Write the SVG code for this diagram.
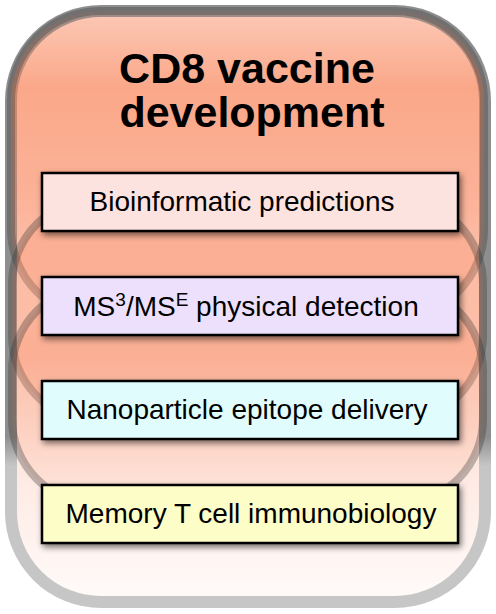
<svg xmlns="http://www.w3.org/2000/svg" width="496" height="614" viewBox="0 0 496 614">
<defs>
<linearGradient id="g0" x1="0" y1="0" x2="0" y2="1">
<stop offset="0" stop-color="#fcd2c2"/>
<stop offset="0.3" stop-color="#fdcfbf"/>
<stop offset="0.6" stop-color="#fdd6c8"/>
<stop offset="0.78" stop-color="#fee9e2"/>
<stop offset="1" stop-color="#fffbfa"/>
</linearGradient>
<linearGradient id="s0" x1="0" y1="0" x2="0" y2="1">
<stop offset="0" stop-color="#8e8e8e"/>
<stop offset="0.72" stop-color="#8e8e8e"/>
<stop offset="0.77" stop-color="#c6c6c6"/>
<stop offset="1" stop-color="#c6c6c6"/>
</linearGradient>
<linearGradient id="gA" x1="0" y1="0" x2="0" y2="1">
<stop offset="0" stop-color="#f9865c" stop-opacity="0.12"/>
<stop offset="0.25" stop-color="#f9865c" stop-opacity="0.55"/>
<stop offset="0.6" stop-color="#f9865c" stop-opacity="0.4"/>
<stop offset="1" stop-color="#f9865c" stop-opacity="0.1"/>
</linearGradient>
<linearGradient id="gB" x1="0" y1="0" x2="0" y2="1">
<stop offset="0" stop-color="#f9865c" stop-opacity="0.12"/>
<stop offset="0.3" stop-color="#f9865c" stop-opacity="0.3"/>
<stop offset="0.7" stop-color="#f9865c" stop-opacity="0.28"/>
<stop offset="1" stop-color="#f9865c" stop-opacity="0.12"/>
</linearGradient>
<linearGradient id="gC" x1="0" y1="0" x2="0" y2="1">
<stop offset="0" stop-color="#f9865c" stop-opacity="0.12"/>
<stop offset="0.3" stop-color="#f9865c" stop-opacity="0.28"/>
<stop offset="0.6" stop-color="#f9865c" stop-opacity="0.2"/>
<stop offset="1" stop-color="#f9865c" stop-opacity="0.06"/>
</linearGradient>
<filter id="sh" x="-10%" y="-40%" width="120%" height="190%">
<feDropShadow dx="2" dy="3" stdDeviation="3" flood-color="#000" flood-opacity="0.55"/>
</filter>
</defs>
<style>
.outer{fill:url(#g0);stroke:url(#s0);stroke-width:12}
.band{stroke:#333;stroke-opacity:0.33;stroke-width:8}
.box{stroke:#000;stroke-width:2.5;filter:url(#sh)}
.lbl{font-family:"Liberation Sans",Arial,sans-serif;font-size:28px;fill:#000;text-anchor:middle}
.title{font-family:"Liberation Sans",Arial,sans-serif;font-size:43px;font-weight:bold;fill:#000;text-anchor:middle}
</style>
<g id="background">
<rect class="outer" x="11" y="11" width="474" height="591" rx="90"/>
<rect class="band" x="11" y="11" width="473" height="307" rx="89" fill="url(#gA)"/>
<rect class="band" x="12" y="199" width="471" height="222" rx="85" fill="url(#gB)"/>
<rect class="band" x="12" y="286" width="471" height="218" rx="85" fill="url(#gC)"/>
</g>
<g id="title">
<text class="title" x="247" y="83">CD8 vaccine</text>
<text class="title" x="252" y="127">development</text>
</g>
<g id="connectors"></g>
<g id="node-bioinformatic">
<rect class="box" x="42" y="173" width="416" height="58" fill="#fde3e0"/>
<text class="lbl" x="242" y="211">Bioinformatic predictions</text>
</g>
<g id="node-ms">
<rect class="box" x="42" y="277" width="416" height="58" fill="#ede0fc"/>
<text class="lbl" x="246" y="316">MS<tspan font-size="19" dy="-10">3</tspan><tspan dy="10">/MS</tspan><tspan font-size="19" dy="-10">E</tspan><tspan dy="10"> physical detection</tspan></text>
</g>
<g id="node-nano">
<rect class="box" x="42" y="381" width="416" height="58" fill="#e0fcfc"/>
<text class="lbl" x="247" y="419">Nanoparticle epitope delivery</text>
</g>
<g id="node-memory">
<rect class="box" x="42" y="485" width="416" height="58" fill="#fdfdc8"/>
<text class="lbl" x="251" y="523">Memory T cell immunobiology</text>
</g>
</svg>
